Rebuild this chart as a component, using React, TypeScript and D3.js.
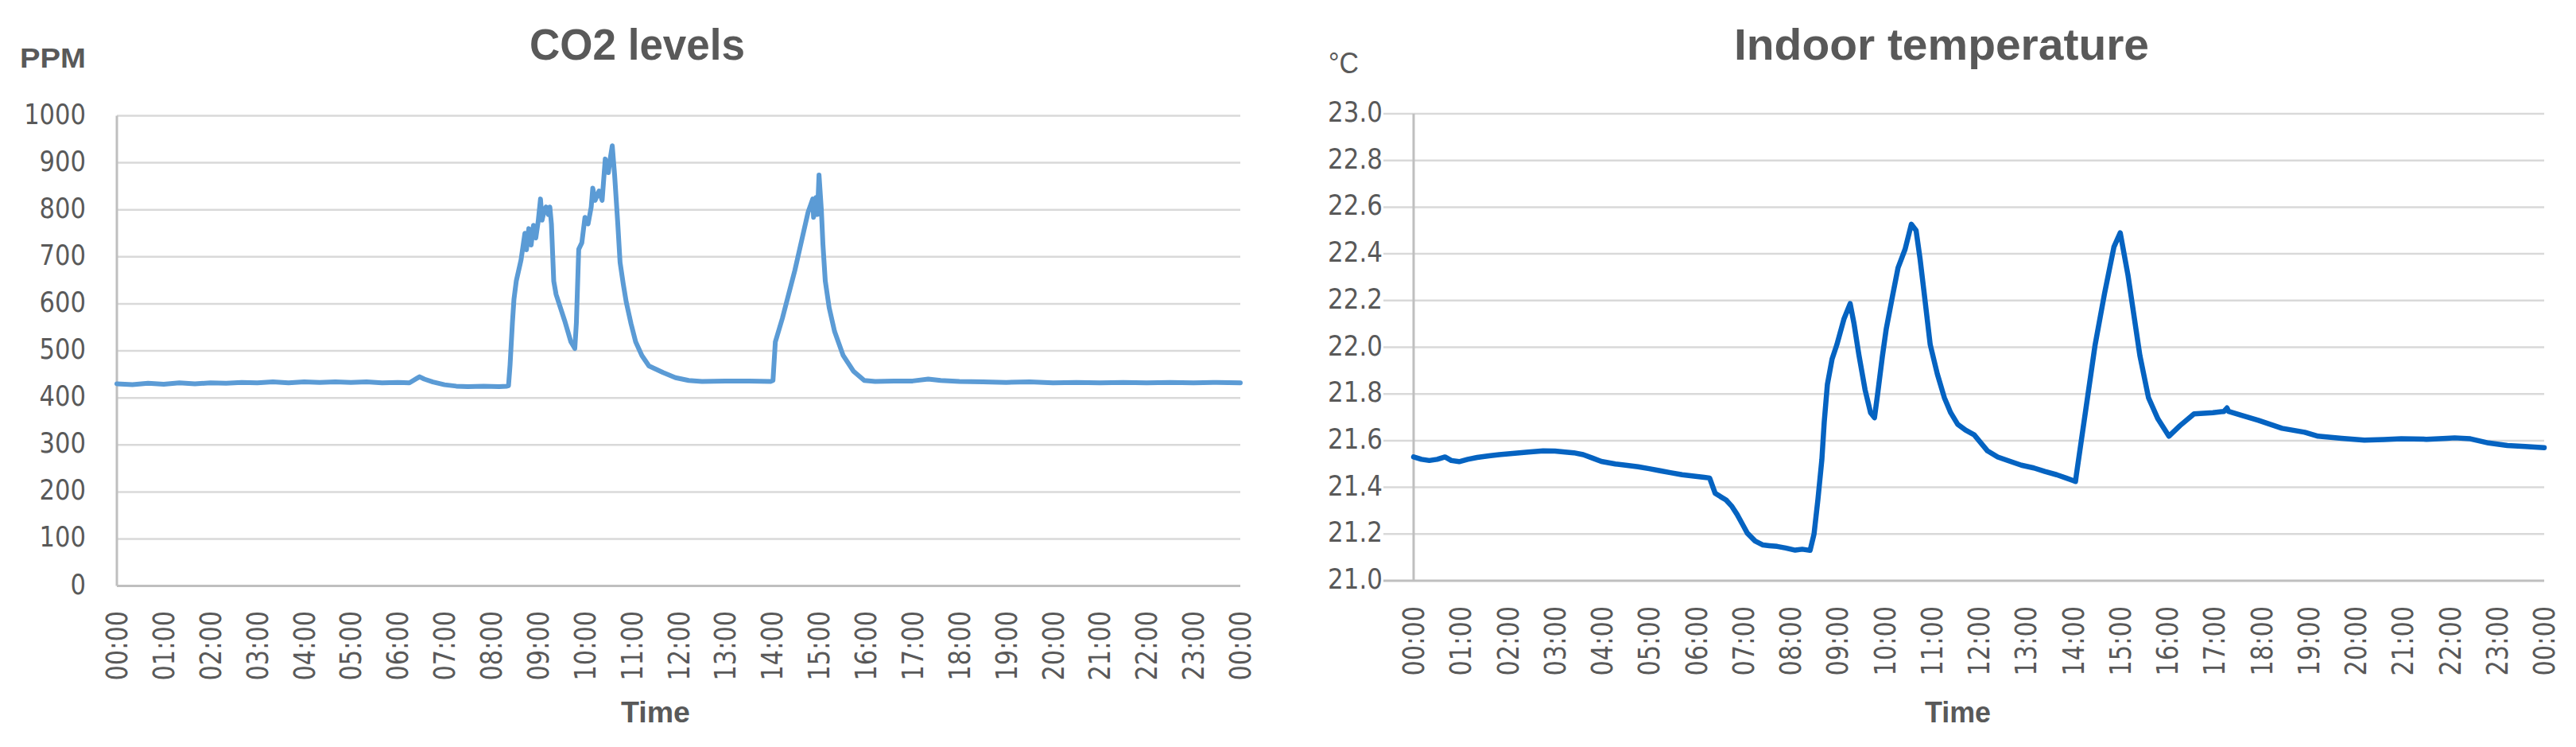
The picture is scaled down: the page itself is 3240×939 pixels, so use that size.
import React from 'react';
import * as d3 from 'd3';

// ---------- DATA ----------
const hourLabels: string[] = d3.range(0, 25).map((h) => `${String(h % 24).padStart(2, '0')}:00`);
const co2Ticks: number[] = [0, 100, 200, 300, 400, 500, 600, 700, 800, 900, 1000];
const tempTicks: number[] = [21.0, 21.2, 21.4, 21.6, 21.8, 22.0, 22.2, 22.4, 22.6, 22.8, 23.0];

const co2Times: string[] = [
  '00:00','00:20','00:40','01:00','01:20','01:40','02:00','02:20','02:40','03:00','03:20','03:40',
  '04:00','04:20','04:40','05:00','05:20','05:40','06:00','06:15','06:24','06:28','06:34','06:45',
  '07:00','07:15','07:30','07:50','08:10','08:20','08:22','08:24','08:27','08:29','08:32','08:38',
  '08:43','08:45','08:48','08:51','08:54','08:57','09:00','09:03','09:05','09:08','09:10','09:13',
  '09:15','09:17','09:20','09:23','09:34','09:42','09:47','09:49','09:52','09:56','10:00','10:04',
  '10:08','10:10','10:13','10:18','10:22','10:26','10:30','10:32','10:35','10:38','10:42','10:45',
  '10:49','10:53','10:59','11:05','11:13','11:22','11:40','11:56','12:13','12:30','13:00','13:30',
  '13:58','14:01','14:04','14:13','14:29','14:46','14:52','14:53','14:56','14:58','15:00','15:03',
  '15:05','15:08','15:13','15:20','15:31','15:44','15:58','16:12','16:36','17:00','17:20','17:36',
  '18:00','18:30','19:00','19:30','20:00','20:30','21:00','21:30','22:00','22:30','23:00','23:30','24:00',
];
const co2Ppm: number[] = [
  430, 428, 431, 429, 432, 430, 432, 431, 433, 432, 434, 432,
  434, 433, 434, 433, 434, 432, 433, 432, 441, 445, 440, 434,
  428, 425, 424, 425, 424, 425, 426, 470, 560, 610, 649, 693,
  750, 715, 760, 725, 767, 740, 775, 823, 778, 800, 806, 790,
  806, 770, 648, 620, 564, 519, 505, 560, 716, 730, 784, 770,
  806, 846, 820, 840, 820, 908, 879, 905, 936, 874, 772, 688,
  643, 603, 558, 519, 490, 468, 454, 443, 437, 435, 436, 436,
  435, 437, 519, 569, 671, 795, 823, 784, 826, 790, 874, 800,
  727, 649, 592, 541, 490, 457, 437, 435, 436, 436, 440, 437,
  435, 434, 433, 434, 432, 433, 432, 433, 432, 433, 432, 433, 432,
];

const tempTimes: string[] = [
  '00:00','00:10','00:20','00:30','00:40','00:48','00:58','01:09','01:21','01:36','01:49','02:06',
  '02:26','02:45','03:00','03:13','03:24','03:36','03:48','03:59','04:17','04:30','04:46','05:00',
  '05:14','05:27','05:42','05:57','06:10','06:17','06:24','06:31','06:38','06:45','06:52','07:00',
  '07:05','07:15','07:25','07:33','07:43','07:54','08:06','08:15','08:25','08:30','08:35','08:40',
  '08:43','08:47','08:53','08:59','09:08','09:16','09:21','09:27','09:35','09:42','09:47','09:51',
  '09:57','10:02','10:10','10:17','10:26','10:34','10:40','10:45','10:50','10:58','11:07','11:16',
  '11:24','11:33','11:43','11:54','12:11','12:24','12:40','12:54','13:10','13:24','13:39','13:51',
  '13:59','14:03','14:04','14:16','14:28','14:40','14:52','15:00','15:10','15:25','15:36','15:48',
  '16:02','16:16','16:34','16:58','17:12','17:16','17:18','17:33','17:56','18:26','18:55','19:12',
  '19:42','20:11','20:36','20:58','21:30','21:56','22:06','22:26','22:49','23:13','23:36','24:00',
];
const tempC: number[] = [
  21.53, 21.52, 21.515, 21.52, 21.53, 21.515, 21.51, 21.52, 21.528, 21.535, 21.54, 21.545,
  21.551, 21.556, 21.555, 21.551, 21.548, 21.54, 21.525, 21.511, 21.5, 21.495, 21.488, 21.48,
  21.471, 21.463, 21.454, 21.448, 21.443, 21.44, 21.375, 21.36, 21.346, 21.32, 21.284, 21.235,
  21.204, 21.17, 21.153, 21.15, 21.147, 21.14, 21.131, 21.135, 21.13, 21.2, 21.35, 21.52,
  21.68, 21.84, 21.95, 22.01, 22.12, 22.187, 22.1, 21.97, 21.818, 21.72, 21.698, 21.8,
  21.96, 22.079, 22.22, 22.34, 22.42, 22.527, 22.5, 22.38, 22.24, 22.011, 21.886, 21.784,
  21.72, 21.67, 21.645, 21.625, 21.556, 21.53, 21.511, 21.495, 21.483, 21.468, 21.454, 21.44,
  21.43, 21.425, 21.45, 21.73, 22.01, 22.23, 22.43, 22.49, 22.306, 21.965, 21.784, 21.693,
  21.619, 21.664, 21.715, 21.72, 21.725, 21.74, 21.725, 21.71, 21.687, 21.653, 21.636, 21.619,
  21.61, 21.602, 21.605, 21.608, 21.606, 21.61, 21.612, 21.608, 21.59, 21.579, 21.575, 21.57,
];

// ---------- HELPERS ----------
const toMin = (s: string) => {
  const [h, m] = s.split(':').map(Number);
  return h * 60 + m;
};

const TEXT = '#595959';
const GRID = '#d9d9d9';
const AXIS = '#bfbfbf';
const TICKFONT = '"DejaVu Sans", sans-serif';
const HEADFONT = '"Liberation Sans", Arial, sans-serif';

type ChartProps = {
  left: number; right: number; top: number; bottom: number; gridStart: number;
  domain: [number, number]; ticks: number[]; fmt: (v: number) => string;
  times: string[]; values: number[]; color: string; lineW: number;
  labelRight: number; labelScale: number; xLabelTop: number;
};

function Chart(p: ChartProps) {
  const x = d3.scaleLinear().domain([0, 1440]).range([p.left, p.right]);
  const y = d3.scaleLinear().domain(p.domain).range([p.bottom, p.top]);
  const pts = p.times.map((t, i) => [toMin(t), p.values[i]] as [number, number]);
  const line = d3.line<[number, number]>().x((d) => x(d[0])).y((d) => y(d[1]));
  return (
    <g>
      {p.ticks.map((t, i) =>
        i === 0 ? null : (
          <line key={'g' + i} x1={p.gridStart} x2={p.right} y1={y(t)} y2={y(t)} stroke={GRID} strokeWidth={2.5} />
        )
      )}
      <line x1={p.left} x2={p.left} y1={y(p.domain[1])} y2={y(p.domain[0])} stroke={AXIS} strokeWidth={3} />
      <line x1={Math.min(p.gridStart, p.left)} x2={p.right} y1={y(p.domain[0])} y2={y(p.domain[0])} stroke={AXIS} strokeWidth={3} />
      {p.ticks.map((t, i) => (
        <text
          key={'y' + i}
          transform={`translate(${p.labelRight},${y(t) + 10}) scale(${p.labelScale},1)`}
          textAnchor="end"
          fontFamily={TICKFONT}
          fontSize={36}
          fill={TEXT}
        >
          {p.fmt(t)}
        </text>
      ))}
      {hourLabels.map((lab, i) => (
        <text
          key={'x' + i}
          transform={`translate(${x(i * 60) + 13},${p.xLabelTop}) rotate(-90) scale(0.82,1)`}
          textAnchor="end"
          fontFamily={TICKFONT}
          fontSize={37}
          fill={TEXT}
        >
          {lab}
        </text>
      ))}
      <path d={line(pts) || ''} fill="none" stroke={p.color} strokeWidth={p.lineW} strokeLinejoin="round" strokeLinecap="round" />
    </g>
  );
}

export default function App() {
  return (
    <svg
      width={3240}
      height={939}
      viewBox="0 0 3240 939"
      style={{ position: 'absolute', left: 0, top: 0, display: 'block', background: '#fff' }}
    >
      <rect x={0} y={0} width={3240} height={939} fill="#fff" />
      {/* Left: CO2 */}
      <text x={666} y={75} fontFamily={HEADFONT} fontWeight="bold" fontSize={56} fill={TEXT} textLength={271} lengthAdjust="spacingAndGlyphs">CO2 levels</text>
      <text x={25} y={85} fontFamily={HEADFONT} fontWeight="bold" fontSize={35} fill={TEXT} textLength={83} lengthAdjust="spacingAndGlyphs">PPM</text>
      <text x={781} y={908} fontFamily={HEADFONT} fontWeight="bold" fontSize={37} fill={TEXT} textLength={87} lengthAdjust="spacingAndGlyphs">Time</text>
      <Chart
        left={147} right={1560} top={145.5} bottom={736.6} gridStart={147}
        domain={[0, 1000]} ticks={co2Ticks} fmt={(v) => String(v)}
        times={co2Times} values={co2Ppm} color="#5b9bd5" lineW={6}
        labelRight={108} labelScale={0.85} xLabelTop={768}
      />
      {/* Right: temperature */}
      <text x={2181} y={75} fontFamily={HEADFONT} fontWeight="bold" fontSize={56} fill={TEXT} textLength={522} lengthAdjust="spacingAndGlyphs">Indoor temperature</text>
      <text x={1671} y={92} fontFamily={HEADFONT} fontSize={37} fill={TEXT} textLength={38} lengthAdjust="spacingAndGlyphs">°C</text>
      <text x={2421} y={908} fontFamily={HEADFONT} fontWeight="bold" fontSize={37} fill={TEXT} textLength={83} lengthAdjust="spacingAndGlyphs">Time</text>
      <Chart
        left={1778} right={3200} top={143} bottom={730} gridStart={1740}
        domain={[21, 23]} ticks={tempTicks} fmt={(v) => v.toFixed(1)}
        times={tempTimes} values={tempC} color="#0563c1" lineW={6.5}
        labelRight={1739} labelScale={0.86} xLabelTop={762}
      />
    </svg>
  );
}
